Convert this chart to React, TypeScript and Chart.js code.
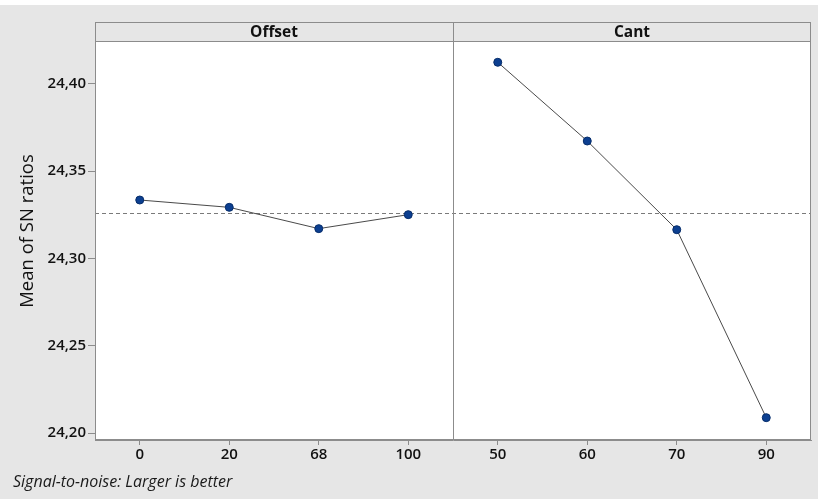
import React, { useEffect, useRef } from 'react';
import { Chart, registerables } from 'chart.js';

Chart.register(...registerables);

// Factor levels and mean S/N ratios for each level
const offsetLevels = ['0', '20', '68', '100'];
const cantLevels = ['50', '60', '70', '90'];
const offsetMeans = [24.3335, 24.3293, 24.3171, 24.3251];
const cantMeans = [24.4124, 24.3673, 24.3165, 24.2088];
const yTickValues = [24.2, 24.25, 24.3, 24.35, 24.4];
const panelTitles = ['Offset', 'Cant'];
const yTitle = 'Mean of SN ratios';
const footnote = 'Signal-to-noise: Larger is better';

const FONT = "'Open Sans', 'DejaVu Sans', sans-serif";
const FRAME = '#8c8c8c';
const BG = '#e6e6e6';

const allMeans = [...offsetMeans, ...cantMeans];
const grandMean = allMeans.reduce((a, b) => a + b, 0) / allMeans.length;

const mainEffectsPlugin = {
  id: 'mainEffects',
  beforeDraw(chart: any) {
    const { ctx, width, height, chartArea } = chart;
    ctx.save();
    ctx.fillStyle = BG;
    ctx.fillRect(0, 0, width, height);
    ctx.fillStyle = '#ffffff';
    ctx.fillRect(0, 0, width, 5);
    ctx.fillRect(chartArea.left, chartArea.top, chartArea.right - chartArea.left, chartArea.bottom - chartArea.top);
    ctx.restore();
  },
  beforeDatasetsDraw(chart: any) {
    const { ctx, chartArea, scales } = chart;
    const y = Math.round(scales.y.getPixelForValue(grandMean)) + 0.5;
    ctx.save();
    ctx.strokeStyle = '#7a7a7a';
    ctx.lineWidth = 1;
    ctx.setLineDash([4, 3]);
    ctx.beginPath();
    ctx.moveTo(chartArea.left, y);
    ctx.lineTo(chartArea.right, y);
    ctx.stroke();
    ctx.restore();
  },
  afterDraw(chart: any) {
    const { ctx, chartArea } = chart;
    const { left, right, top, bottom } = chartArea;
    const mid = (left + right) / 2;
    const stripTop = 22;
    ctx.save();
    ctx.strokeStyle = FRAME;
    ctx.lineWidth = 1;
    // plot frame and panel divider
    ctx.strokeRect(left + 0.5, stripTop + 0.5, right - left - 1, bottom - stripTop - 1);
    ctx.beginPath();
    ctx.moveTo(Math.round(mid) + 0.5, stripTop);
    ctx.lineTo(Math.round(mid) + 0.5, bottom);
    ctx.moveTo(left, top + 0.5);
    ctx.lineTo(right, top + 0.5);
    ctx.stroke();
    // panel strip labels
    ctx.fillStyle = '#111111';
    ctx.font = `bold 15.5px ${FONT}`;
    ctx.textAlign = 'center';
    ctx.textBaseline = 'middle';
    const centers = [(left + mid) / 2, (mid + right) / 2];
    panelTitles.forEach((t, i) => ctx.fillText(t, centers[i], (stripTop + top) / 2 + 1));
    // vertical axis title, centred on the strip + plot block
    ctx.save();
    ctx.translate(28, (stripTop + bottom) / 2);
    ctx.rotate(-Math.PI / 2);
    ctx.font = `18.5px ${FONT}`;
    ctx.fillText(yTitle, 0, 0);
    ctx.restore();
    // footnote
    ctx.font = `italic 16px ${FONT}`;
    ctx.textAlign = 'left';
    ctx.textBaseline = 'alphabetic';
    ctx.fillStyle = '#1a1a1a';
    ctx.fillText(footnote, 13, 487);
    ctx.restore();
  },
};

export default function App() {
  const canvasRef = useRef<HTMLCanvasElement | null>(null);

  useEffect(() => {
    document.body.style.margin = '0';
    const canvas = canvasRef.current;
    if (!canvas) return;
    const pad = new Array(4).fill(null);
    const chart = new Chart(canvas, {
      type: 'line',
      data: {
        labels: [...offsetLevels, ...cantLevels],
        datasets: [
          { label: panelTitles[0], data: [...offsetMeans, ...pad] },
          { label: panelTitles[1], data: [...pad, ...cantMeans] },
        ].map((d) => ({
          ...d,
          borderColor: '#4a4a4a',
          borderWidth: 1,
          pointRadius: 4,
          pointBackgroundColor: '#0c3f90',
          pointBorderColor: '#062d6b',
          pointBorderWidth: 1,
          spanGaps: false,
          tension: 0,
        })),
      },
      options: {
        responsive: false,
        animation: false,
        devicePixelRatio: 1,
        layout: { padding: { top: 41, right: 7, left: 0, bottom: 0 } },
        plugins: { legend: { display: false }, tooltip: { enabled: false }, title: { display: false } },
        scales: {
          x: {
            type: 'category',
            offset: true,
            grid: { display: true, offset: false, drawOnChartArea: false, drawTicks: true, tickLength: 5, color: FRAME },
            border: { display: true, color: FRAME },
            ticks: { color: '#111111', font: { family: FONT, size: 15, weight: 600 }, padding: 1, maxRotation: 0 },
            afterFit: (s: any) => { s.height = 59; },
          },
          y: {
            type: 'linear',
            min: 24.196,
            max: 24.4246,
            afterBuildTicks: (s: any) => { s.ticks = yTickValues.map((v) => ({ value: v })); },
            grid: { display: true, drawOnChartArea: false, drawTicks: true, tickLength: 7, color: FRAME },
            border: { display: true, color: FRAME },
            ticks: {
              color: '#111111',
              font: { family: FONT, size: 15, weight: 600 },
              padding: 2,
              callback: (v: any) => Number(v).toFixed(2).replace('.', ','),
            },
            title: { display: false },
            afterFit: (s: any) => { s.width = 95; },
          },
        },
      },
      plugins: [mainEffectsPlugin],
    });
    return () => chart.destroy();
  }, []);

  return <canvas ref={canvasRef} width={818} height={499} style={{ display: 'block' }} />;
}
